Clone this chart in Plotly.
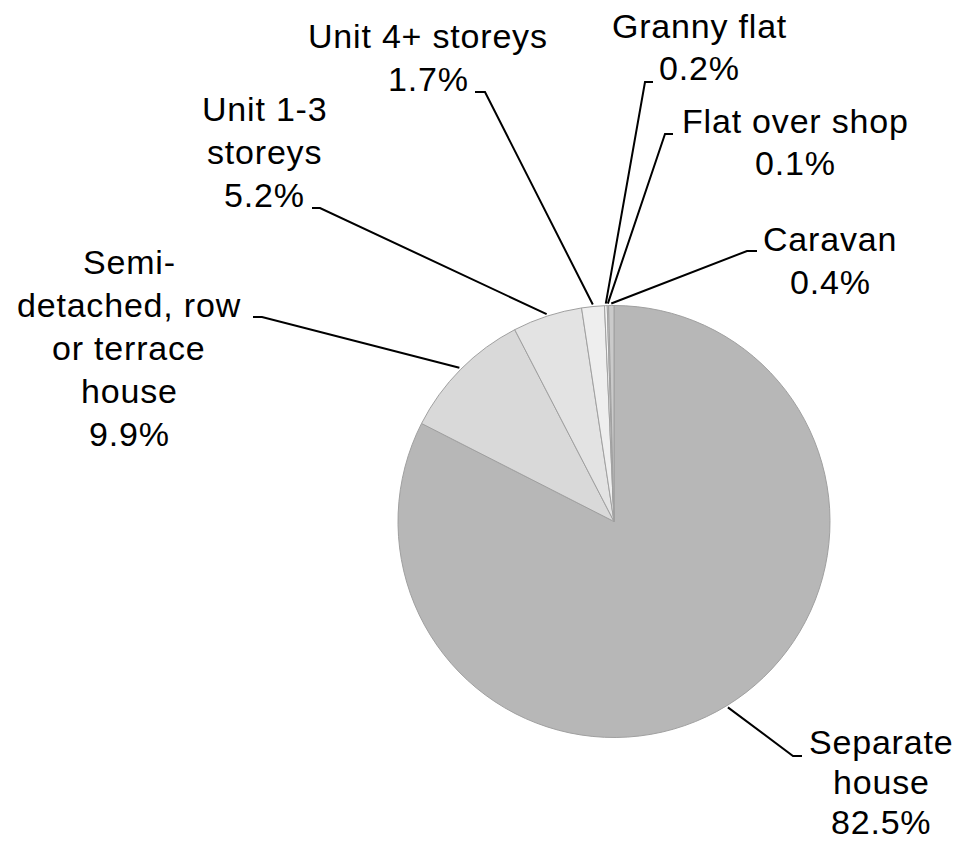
import math
import plotly.graph_objects as go

# ---- data ----
categories = ["Separate house", "Semi-detached, row or terrace house", "Unit 1-3 storeys",
              "Unit 4+ storeys", "Granny flat", "Flat over shop", "Caravan"]
label_lines = [["Separate", "house"], ["Semi-", "detached, row", "or terrace", "house"],
               ["Unit 1-3", "storeys"], ["Unit 4+ storeys"], ["Granny flat"],
               ["Flat over shop"], ["Caravan"]]
values = [82.5, 9.9, 5.2, 1.7, 0.2, 0.1, 0.4]

# ---- styling / layout constants (page pixel coordinates) ----
PAGE_W, PAGE_H, OFF = 961, 842, 8          # page body has an 8px margin
W, H = PAGE_W - OFF, PAGE_H - OFF           # figure size
CX, CY, R = 614, 521.5, 216
slice_colors = ["#b7b7b7", "#d9d9d9", "#e3e3e3", "#eeeeee", "#f5f5f5", "#e9e9e9", "#cacaca"]
# label centre x, first baseline y and line spacing
label_x = [881, 129, 264, 428, 699, 795, 830]
label_base = [754, 274, 121, 48, 38, 133, 251]
label_lsp = [40, 43, 43, 43, 42, 42, 43]
elbows = [((802, 756), (793, 756)), ((253, 317), (262, 317)), ((312, 208), (320, 208)),
          ((475, 92), (485, 92)), ((653, 82), (645, 82)), ((673, 134), (665, 134)),
          ((757, 251), (747, 251))]
FSIZE = 34
FONT = dict(family="Liberation Sans, Arial, sans-serif", size=FSIZE, color="black")

fig = go.Figure()
cy_up = H - (CY - OFF)
fig.add_trace(go.Pie(
    labels=categories, values=values, sort=False, direction="clockwise", rotation=0,
    textinfo="none", hoverinfo="label+percent", showlegend=False,
    marker=dict(colors=slice_colors, line=dict(color="#a0a0a0", width=1)),
    domain=dict(x=[(CX - OFF - R) / W, (CX - OFF + R) / W],
                y=[(cy_up - R) / H, (cy_up + R) / H]),
))

total = sum(values)
cum = 0.0
for i, v in enumerate(values):
    theta = math.radians(360.0 * (cum + v / 2.0) / total)
    cum += v
    ex = CX + (R + 2) * math.sin(theta)
    ey = CY - (R + 2) * math.cos(theta)
    (ox, oy), (ix, iy) = elbows[i]
    fig.add_trace(go.Scatter(x=[ox, ix, ex], y=[oy, iy, ey], mode="lines",
                             line=dict(color="black", width=2), hoverinfo="skip",
                             showlegend=False))
    lines = label_lines[i] + [f"{v}%"]
    for k, txt in enumerate(lines):
        base = label_base[i] + k * label_lsp[i]
        fig.add_annotation(x=label_x[i], y=base - 0.3465 * FSIZE, xref="x", yref="y",
                           text=f'<span style="letter-spacing:0.8px">{txt}</span>',
                           showarrow=False, font=FONT, align="center",
                           xanchor="center", yanchor="middle", borderpad=0)

fig.update_layout(
    width=W, height=H, margin=dict(l=0, r=0, t=0, b=0),
    paper_bgcolor="white", plot_bgcolor="white",
    xaxis=dict(range=[OFF, PAGE_W], visible=False, fixedrange=True, domain=[0, 1]),
    yaxis=dict(range=[PAGE_H, OFF], visible=False, fixedrange=True, domain=[0, 1]),
)
fig.write_html("out.html")
